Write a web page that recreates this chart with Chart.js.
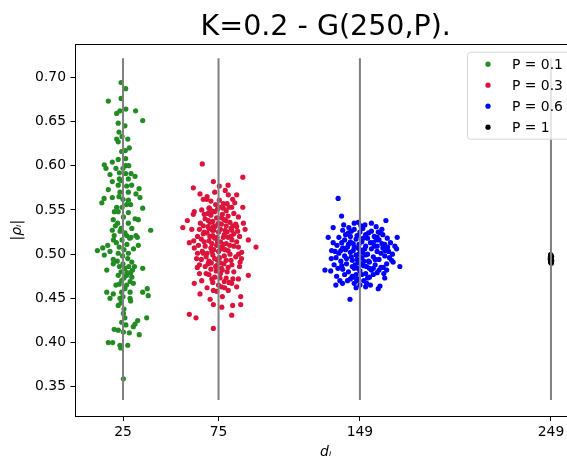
<!DOCTYPE html>
<html>
<head>
<meta charset="utf-8">
<script src="https://cdn.jsdelivr.net/npm/chart.js@4.4.0/dist/chart.umd.min.js"></script>
<style>
  html, body { margin: 0; padding: 0; background: #fff; overflow: hidden; }
  #wrap { width: 567px; height: 459px; overflow: hidden; }
</style>
</head>
<body>
<div id="wrap"><canvas id="scatterChart" width="580" height="459"></canvas></div>
<script>
// values: [d_i (jittered), |rho_i|]
const seriesLabels = ['P = 0.1', 'P = 0.3', 'P = 0.6', 'P = 1'];
const seriesColors = ['#228b22', '#dc143c', '#0000ff', '#000000'];
const xTicks = [25, 75, 149, 249];
const yTicks = [0.35, 0.40, 0.45, 0.50, 0.55, 0.60, 0.65, 0.70];
const vlineX = [25, 75, 149, 249];
const vlineRange = [0.335, 0.7215];

const p01 = [
  [24.0,0.694],[26.4,0.687],[17.3,0.673],[24.0,0.676],[23.4,0.662],[21.7,0.659],[31.6,0.662],[35.3,0.651],
  [22.5,0.648],[22.9,0.638],[21.7,0.630],[27.5,0.630],[22.5,0.627],[28.3,0.620],[24.3,0.616],[26.2,0.617],
  [22.5,0.607],[26.4,0.608],[19.4,0.604],[15.2,0.601],[16.1,0.597],[21.3,0.597],[26.4,0.600],[18.2,0.590],
  [23.1,0.592],[26.4,0.591],[29.2,0.591],[31.3,0.588],[19.4,0.582],[23.1,0.585],[27.8,0.585],[22.5,0.578],
  [26.9,0.577],[33.4,0.574],[17.3,0.573],[23.4,0.570],[27.8,0.570],[31.8,0.568],[19.4,0.564],[15.1,0.563],
  [13.9,0.558],[22.9,0.565],[27.8,0.561],[33.9,0.564],[21.7,0.553],[26.9,0.556],[35.3,0.552],[22.5,0.548],
  [27.8,0.547],[19.9,0.539],[25.2,0.542],[31.3,0.540],[33.0,0.539],[22.2,0.535],[27.8,0.535],[19.4,0.527],
  [24.0,0.529],[29.6,0.529],[39.5,0.527],[20.4,0.521],[26.9,0.521],[31.8,0.521],
  [11.6,0.504],[14.4,0.507],[18.2,0.503],[15.2,0.499],[22.5,0.501],[27.8,0.501],[33.0,0.510],[29.2,0.519],
  [32.5,0.519],[19.9,0.494],[19.9,0.489],[29.6,0.491],[16.5,0.482],[23.1,0.486],[26.0,0.484],[35.3,0.484],
  [22.5,0.476],[26.9,0.476],[29.6,0.474],[24.3,0.470],[28.7,0.469],[21.3,0.465],[26.9,0.465],[30.4,0.467],
  [16.5,0.457],[19.9,0.455],[18.2,0.450],[24.3,0.457],[28.7,0.457],[35.3,0.457],[37.7,0.461],[38.2,0.453],
  [23.4,0.450],[28.7,0.450],[22.5,0.442],[25.2,0.433],[26.0,0.428],[24.3,0.423],[37.4,0.428],[32.7,0.425],
  [31.3,0.421],[30.4,0.418],[20.4,0.415],[22.5,0.414],[25.2,0.412],[28.3,0.411],[33.5,0.409],[17.3,0.400],
  [19.6,0.400],[23.4,0.397],[23.8,0.394],[27.5,0.397],[25.2,0.359],
  [21.0,0.532],[23.5,0.526],[26.0,0.524],[28.5,0.518],[24.5,0.516],[21.5,0.513],[27.0,0.511],[23.0,0.508],
  [25.5,0.505],[30.5,0.506],[17.0,0.510],[20.0,0.516],[24.8,0.498],[27.5,0.495],[22.0,0.492],[25.0,0.489],
  [28.0,0.486],[30.0,0.482],[24.0,0.480],[27.0,0.479],[29.0,0.479],[31.0,0.486],[25.5,0.473],[23.0,0.466],
  [26.0,0.461],[25.0,0.452],[24.0,0.445],[25.5,0.438],[26.5,0.420],[29.0,0.447],[20.5,0.548],[24.5,0.553],
  [29.0,0.556],[25.0,0.562],[29.5,0.578],[25.0,0.597],[24.0,0.583],[28.0,0.600],[26.0,0.645],[24.5,0.633],
  [26.5,0.664]
];

const p03 = [
  [66.5,0.602],[87.7,0.587],[72.3,0.582],[75.4,0.577],[61.8,0.575],[65.3,0.568],[80.1,0.567],[68.8,0.562],
  [82.4,0.562],[75.4,0.561],[87.7,0.553],[62.3,0.548],[66.2,0.550],[70.2,0.552],[77.5,0.552],[81.9,0.553],
  [61.8,0.545],[85.4,0.542],[58.7,0.538],[69.7,0.538],[78.9,0.538],[56.3,0.530],[65.0,0.528],[88.9,0.528],
  [72.3,0.531],[84.5,0.531],[67.0,0.523],[90.6,0.516],[59.7,0.513],[94.6,0.508],[62.3,0.507],[87.1,0.502],
  [85.4,0.508],[67.0,0.501],[63.9,0.485],[86.3,0.491],[65.0,0.478],[90.6,0.476],[85.4,0.472],[62.3,0.467],
  [66.2,0.470],[81.9,0.467],[65.3,0.455],[72.3,0.459],[80.1,0.459],[84.5,0.463],[86.6,0.452],[70.6,0.449],
  [72.3,0.443],[76.7,0.440],[82.4,0.442],[86.6,0.443],[59.7,0.432],[63.2,0.428],[81.9,0.431],[72.3,0.416],
  [70,0.552],[73,0.548],[76,0.553],[79,0.549],[71,0.544],[74,0.541],[77,0.545],[80,0.543],[83,0.546],
  [68,0.540],[72,0.537],[75,0.535],[78,0.539],[81,0.536],[84,0.534],[67,0.532],[70,0.529],[73,0.531],
  [76,0.528],[79,0.532],[82,0.527],[69,0.524],[72,0.521],[75,0.525],[78,0.522],[80,0.519],[83,0.523],
  [86,0.520],[66,0.517],[70,0.515],[73,0.518],[76,0.514],[79,0.512],[82,0.516],[68,0.509],[71,0.507],
  [74,0.510],[77,0.506],[80,0.504],[83,0.509],[69,0.501],[72,0.499],[75,0.503],[78,0.498],[81,0.500],
  [84,0.497],[66,0.494],[70,0.492],[73,0.495],[76,0.490],[79,0.493],[82,0.488],[68,0.486],[71,0.483],
  [74,0.487],[77,0.482],[80,0.485],[83,0.480],[70,0.477],[73,0.474],[76,0.478],[79,0.473],[72,0.468],
  [75,0.465],[78,0.469],[74,0.458],[77,0.452],[69,0.462],[74.5,0.533],[77.5,0.519],[71.5,0.512],[75.5,0.496],
  [72.5,0.505],[78.5,0.527],[73.5,0.556],[76.5,0.541],[70.5,0.536],[79.5,0.557],[74.2,0.519],[76.2,0.508],
  [71.2,0.490],[77.8,0.489],[69.5,0.546],[81.5,0.529],[84.5,0.514],[66.5,0.503],[68.5,0.478],[82.5,0.472],
  [73.8,0.481],[75.8,0.473],[78.2,0.462],[71.8,0.527],[80.8,0.510],[67.5,0.525],[85.5,0.500],[64.5,0.510],
  [63.5,0.495],[65.5,0.535],[88,0.535],[87,0.495],[64,0.520],[83.5,0.558],[69,0.565],[73,0.570],
  [78.5,0.572],[71,0.560],[84.5,0.567],
  [67.5,0.545],[71.5,0.549],[74.5,0.551],[77.5,0.557],[80.5,0.553],[69.5,0.531],[72.5,0.527],[76.5,0.534],
  [79.5,0.525],[82.5,0.532],[67.5,0.514],[70.5,0.520],[74.5,0.514],[77.5,0.511],[81.5,0.520],[68.5,0.497],
  [71.5,0.503],[74.5,0.493],[78.5,0.505],[81.5,0.493],[69.5,0.489],[73.5,0.486],[76.5,0.484],[79.5,0.480],
  [71.5,0.472],[76.5,0.463],[80.5,0.468],[85,0.526],[64,0.501],[65,0.488],[86,0.486],[62,0.515],
  [61,0.528],[67,0.562],[80,0.578]
];

const p06 = [
  [137.6,0.563],[139.4,0.543],[162.6,0.538],[135.0,0.530],[151.6,0.533],[148.1,0.536],[158.6,0.525],[132.4,0.519],
  [168.5,0.519],[163.3,0.518],[135.0,0.513],[167.3,0.509],[134.2,0.504],[168.2,0.506],[162.1,0.504],[130.7,0.482],
  [133.7,0.481],[166.4,0.491],[169.9,0.486],[136.8,0.475],[138.5,0.470],[136.4,0.465],[139.9,0.467],[152.5,0.467],
  [159.5,0.464],[158.6,0.461],[143.8,0.449],[147.3,0.470],[145.5,0.474],[161.2,0.485],[165.6,0.493],
  [140,0.527],[143,0.524],[146,0.528],[149,0.525],[152,0.522],[155,0.526],[158,0.519],[161,0.522],
  [138,0.519],[141,0.516],[144,0.520],[147,0.517],[150,0.514],[153,0.518],[156,0.513],[159,0.516],
  [162,0.511],[137,0.510],[140,0.507],[143,0.511],[146,0.508],[149,0.505],[152,0.509],[155,0.506],
  [158,0.503],[161,0.507],[164,0.503],[138,0.501],[141,0.498],[144,0.502],[147,0.499],[150,0.496],
  [153,0.500],[156,0.497],[159,0.494],[162,0.498],[139,0.492],[142,0.489],[145,0.493],[148,0.490],
  [151,0.487],[154,0.491],[157,0.488],[160,0.485],[163,0.489],[140,0.483],[143,0.480],[146,0.484],
  [149,0.481],[152,0.478],[155,0.482],[158,0.479],[145,0.475],[148,0.472],[151,0.470],[154,0.474],
  [149.5,0.532],[145.5,0.512],[150.5,0.502],[147.5,0.494],[152.5,0.486],[144.5,0.497],[156.5,0.509],[141.5,0.505],
  [148.5,0.511],[153.5,0.492],[146.5,0.488],[150.8,0.518],[143.2,0.530],[157.5,0.531],[160.5,0.528],[136.5,0.496],
  [139.5,0.487],[154.5,0.465],[147,0.462],[150,0.477],[161.5,0.478],[164.5,0.496],[135.5,0.488],[142.5,0.470],
  [156,0.484],
  [141.5,0.522],[144.5,0.526],[147.5,0.521],[150.5,0.529],[153.5,0.524],[156.5,0.520],[159.5,0.524],[139.5,0.513],
  [142.5,0.508],[145.5,0.504],[148.5,0.500],[151.5,0.506],[154.5,0.513],[157.5,0.516],[160.5,0.512],[163.5,0.508],
  [139,0.504],[142,0.495],[145,0.486],[148,0.484],[151,0.492],[154,0.484],[157,0.494],[160,0.501],
  [163,0.482],[137.5,0.484],[141,0.477],[144,0.472],[147,0.477],[150,0.488],[153,0.473],[156,0.477],
  [159,0.482],[162,0.473],[146,0.467],[149,0.465],[152,0.463],[144,0.514],[155,0.535],[146,0.535],
  [140.5,0.533],[152,0.499],[148,0.507],[158,0.509],[136,0.503],[166,0.500],[134,0.495],[165,0.513]
];

const p1 = [
  [248.8,0.491],[249.2,0.493],[249.0,0.495],[248.7,0.497],[249.3,0.4975],[249.0,0.4905],[248.9,0.494],
  [249.1,0.496],[249.4,0.4925],[248.6,0.4945],[249.0,0.4985],[249.2,0.4898],[248.8,0.4995],[249.1,0.4915]
];

const groups = [p01, p03, p06, p1];

const font = 'DejaVu Sans';

// matplotlib style legend box inside the axes, upper right
const legendBox = {
  id: 'legendBox',
  afterDatasetsDraw(chart) {
    const ctx = chart.ctx;
    const a = chart.chartArea;
    const x = a.right - 109, y = a.top + 7.5, w = 106, h = 87;
    ctx.save();
    ctx.beginPath();
    ctx.roundRect(x + 0.5, y + 0.5, w, h, 3);
    ctx.fillStyle = 'rgba(255,255,255,0.8)';
    ctx.fill();
    ctx.strokeStyle = '#d6d6d6';
    ctx.lineWidth = 1;
    ctx.stroke();
    ctx.font = '13.9px "' + font + '"';
    ctx.textBaseline = 'middle';
    ctx.textAlign = 'left';
    for (let i = 0; i < seriesLabels.length; i++) {
      const cy = y + 12.5 + i * 21;
      ctx.beginPath();
      ctx.arc(x + 21, cy, 2.6, 0, Math.PI * 2);
      ctx.fillStyle = seriesColors[i];
      ctx.fill();
      ctx.fillStyle = '#000';
      ctx.fillText(seriesLabels[i], x + 45, cy + 1);
    }
    ctx.restore();
  }
};

// box around the axes
const spines = {
  id: 'spines',
  afterDraw(chart) {
    const ctx = chart.ctx;
    const a = chart.chartArea;
    ctx.save();
    ctx.strokeStyle = '#000';
    ctx.lineWidth = 1;
    ctx.strokeRect(Math.round(a.left) - 0.5, Math.round(a.top) + 0.5,
      Math.round(a.right) - Math.round(a.left), Math.round(a.bottom) - Math.round(a.top));
    ctx.restore();
  }
};

let datasets = [];
for (let i = 0; i < vlineX.length; i++) {
  datasets.push({
    type: 'line',
    data: [{x: vlineX[i], y: vlineRange[0]}, {x: vlineX[i], y: vlineRange[1]}],
    borderColor: '#808080',
    borderWidth: 2,
    pointRadius: 0,
    showLine: true,
    order: 0
  });
}
for (let i = 0; i < groups.length; i++) {
  datasets.push({
    label: seriesLabels[i],
    data: groups[i].map(p => ({x: p[0], y: p[1]})),
    backgroundColor: seriesColors[i],
    borderWidth: 0,
    pointRadius: 2.6,
    order: 1
  });
}

let myChart = document.getElementById('scatterChart').getContext('2d');

new Chart(myChart, {
  type: 'scatter',
  data: { datasets: datasets },
  options: {
    responsive: false,
    animation: false,
    events: [],
    layout: { padding: { left: 0, right: 4, top: 0, bottom: 0 } },
    plugins: {
      legend: { display: false },
      tooltip: { enabled: false },
      title: {
        display: true,
        fullSize: false,
        text: 'K=0.2 - G(250,P).',
        color: '#000',
        font: { family: font, size: 28.5, weight: 'normal' },
        padding: { top: 10, bottom: 0 }
      }
    },
    scales: {
      x: {
        type: 'linear',
        min: 0.14,
        max: 262.1,
        afterBuildTicks: axis => { axis.ticks = xTicks.map(v => ({ value: v })); },
        ticks: { color: '#000', padding: 3, font: { family: font, size: 13.9 }, callback: v => String(v) },
        grid: { drawOnChartArea: false, drawTicks: true, tickLength: 5, color: '#000' },
        border: { display: false },
        title: {
          display: true,
          text: 'dᵢ',
          color: '#000',
          font: { family: font, size: 13.9, style: 'italic', lineHeight: 1.0 },
          padding: { top: 1.4, bottom: 0 }
        }
      },
      y: {
        min: 0.317,
        max: 0.7373,
        afterBuildTicks: axis => { axis.ticks = yTicks.map(v => ({ value: v })); },
        ticks: { color: '#000', padding: 4.5, font: { family: font, size: 13.9 }, callback: v => v.toFixed(2) },
        grid: { drawOnChartArea: false, drawTicks: true, tickLength: 5, color: '#000' },
        border: { display: false },
        title: {
          display: true,
          text: '|ρᵢ|',
          color: '#000',
          font: { family: font, size: 13.9, style: 'italic' },
          padding: { top: 8.7, bottom: 5.2 }
        }
      }
    }
  },
  plugins: [legendBox, spines]
});
</script>
</body>
</html>
